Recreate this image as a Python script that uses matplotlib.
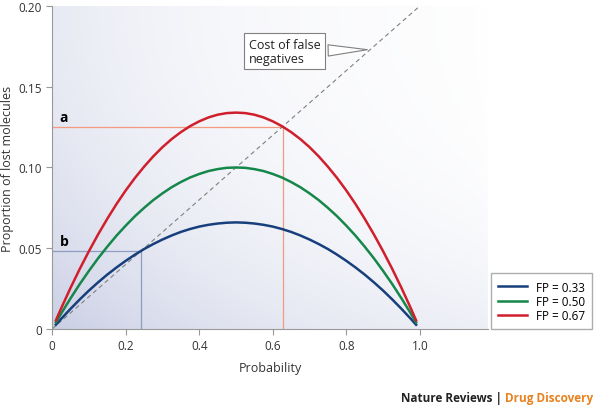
import matplotlib
matplotlib.use('Agg')
import matplotlib.pyplot as plt
import numpy as np

plt.rcParams['font.family'] = ['Open Sans', 'DejaVu Sans']

# Values
prob = [0.01, 0.025, 0.05, 0.075, 0.10, 0.125, 0.15, 0.175, 0.20, 0.225, 0.25,
        0.275, 0.30, 0.325, 0.35, 0.375, 0.40, 0.425, 0.45, 0.475, 0.50,
        0.525, 0.55, 0.575, 0.60, 0.625, 0.65, 0.675, 0.70, 0.725, 0.75,
        0.775, 0.80, 0.825, 0.85, 0.875, 0.90, 0.925, 0.95, 0.975, 0.99]
fp33 = [0.0026, 0.0064, 0.0125, 0.0183, 0.0238, 0.0289, 0.0337, 0.0381, 0.0422, 0.0460, 0.0495,
        0.0526, 0.0554, 0.0579, 0.0601, 0.0619, 0.0634, 0.0645, 0.0653, 0.0658, 0.0660,
        0.0658, 0.0653, 0.0645, 0.0634, 0.0619, 0.0601, 0.0579, 0.0554, 0.0526, 0.0495,
        0.0460, 0.0422, 0.0381, 0.0337, 0.0289, 0.0238, 0.0183, 0.0125, 0.0064, 0.0026]
fp50 = [0.0040, 0.0098, 0.0190, 0.0278, 0.0360, 0.0438, 0.0510, 0.0578, 0.0640, 0.0698, 0.0750,
        0.0798, 0.0840, 0.0878, 0.0910, 0.0938, 0.0960, 0.0978, 0.0990, 0.0998, 0.1000,
        0.0998, 0.0990, 0.0978, 0.0960, 0.0938, 0.0910, 0.0878, 0.0840, 0.0798, 0.0750,
        0.0698, 0.0640, 0.0578, 0.0510, 0.0438, 0.0360, 0.0278, 0.0190, 0.0098, 0.0040]
fp67 = [0.0053, 0.0131, 0.0255, 0.0372, 0.0482, 0.0586, 0.0683, 0.0774, 0.0858, 0.0935, 0.1005,
        0.1069, 0.1126, 0.1176, 0.1219, 0.1256, 0.1286, 0.1310, 0.1327, 0.1337, 0.1340,
        0.1337, 0.1327, 0.1310, 0.1286, 0.1256, 0.1219, 0.1176, 0.1126, 0.1069, 0.1005,
        0.0935, 0.0858, 0.0774, 0.0683, 0.0586, 0.0482, 0.0372, 0.0255, 0.0131, 0.0053]
series = [('FP = 0.33', fp33, '#173f7c'), ('FP = 0.50', fp50, '#15874a'), ('FP = 0.67', fp67, '#d01f2c')]

cost_x = [0.0, 1.0]
cost_y = [0.0, 0.2]

point_a = (0.627, 0.125)
point_b = (0.242, 0.048)

fig = plt.figure(figsize=(6, 4.14), dpi=100)
ax = fig.add_axes([0.087, 0.203, 0.726, 0.78])

# Background gradient: bluish at bottom left, fading to white towards top right
gx, gy = np.meshgrid(np.linspace(0, 1, 200), np.linspace(0, 1, 200))
dist = ((1 - gx) ** 2 + (1 - gy) ** 2) / 2
shade = 0.12 * (1 - gx) ** 0.5 + 0.88 * dist ** 1.5
c_white = np.array([1.0, 1.0, 1.0])
c_blue = np.array([0.79, 0.81, 0.895])
img = c_white + (c_blue - c_white) * shade[..., None]
ax.imshow(img, extent=[0, 1.185, 0, 0.2], origin='lower', aspect='auto', zorder=0)

# Reference lines for a and b
ax.plot([0, point_a[0]], [point_a[1], point_a[1]], color='#f39a80', lw=0.9, zorder=1)
ax.plot([point_a[0], point_a[0]], [0, point_a[1]], color='#f39a80', lw=0.9, zorder=1)
ax.plot([0, point_b[0]], [point_b[1], point_b[1]], color='#8e9cc2', lw=0.9, zorder=1)
ax.plot([point_b[0], point_b[0]], [0, point_b[1]], color='#8e9cc2', lw=0.9, zorder=1)

ax.plot(cost_x, cost_y, color='#808080', lw=0.8, dashes=(4, 3), zorder=2)

for label, vals, col in series:
    ax.plot(prob, vals, color=col, lw=1.8, label=label, zorder=3)

ax.text(0.02, 0.127, 'a', fontsize=10, fontweight='bold', ha='left', va='bottom')
ax.text(0.02, 0.050, 'b', fontsize=10, fontweight='bold', ha='left', va='bottom')

ax.annotate('Cost of false\nnegatives', xy=(0.865, 0.173), xytext=(0.535, 0.172),
            fontsize=9, ha='left', va='center', linespacing=1.1, color='#222222',
            bbox=dict(boxstyle='square,pad=0.35', fc='white', ec='#808080', lw=0.8),
            arrowprops=dict(arrowstyle='wedge,tail_width=0.9,shrink_factor=0.5',
                            fc='white', ec='#808080', lw=0.8))

ax.set_xlim(0, 1.185)
ax.set_ylim(0, 0.2)
ax.set_xticks([0, 0.2, 0.4, 0.6, 0.8, 1.0])
ax.set_xticklabels(['0', '0.2', '0.4', '0.6', '0.8', '1.0'])
ax.set_yticks([0, 0.05, 0.10, 0.15, 0.20])
ax.set_yticklabels(['0', '0.05', '0.10', '0.15', '0.20'])
for s in ['top', 'right']:
    ax.spines[s].set_visible(False)
for s in ['left', 'bottom']:
    ax.spines[s].set_color('#999999')
ax.tick_params(colors='#999999', labelcolor='#333333', labelsize=8.5, length=4, width=0.8)
ax.set_xlabel('Probability', fontsize=9, color='#333333', labelpad=6)
ax.set_ylabel('Proportion of lost molecules', fontsize=9, color='#333333', labelpad=3)

fig.legend(loc='lower right', bbox_to_anchor=(0.987, 0.203), borderaxespad=0, fontsize=8.5,
           frameon=True, fancybox=False, edgecolor='#999999', handlelength=2.4,
           labelspacing=0.1, borderpad=0.6)

t = fig.text(0.988, 0.022, 'Drug Discovery', fontsize=8.5, fontweight='bold',
             color='#e8821e', ha='right', va='bottom')
plt.annotate('Nature Reviews | ', xy=(0, 0), xycoords=t, fontsize=8.5, fontweight='bold',
             color='#222222', ha='right', va='bottom')

fig.savefig('out.png', dpi=100)
